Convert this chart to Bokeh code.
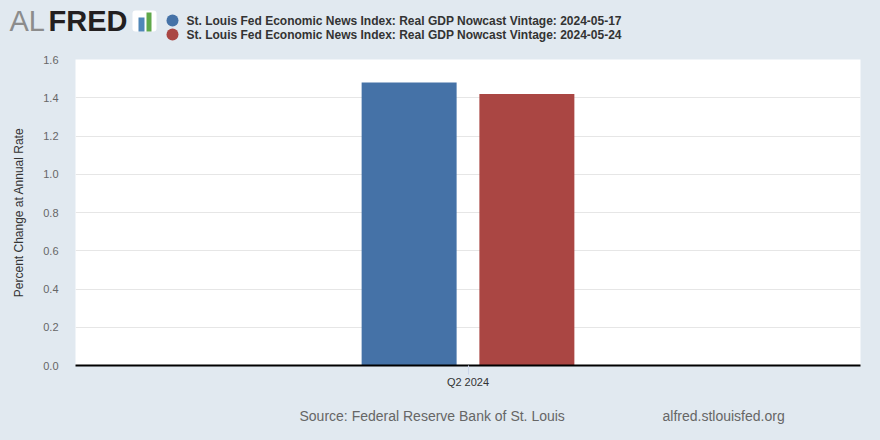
from bokeh.plotting import figure
from bokeh.layouts import column
from bokeh.models import (ColumnDataSource, FactorRange, Range1d, Label,
                          SingleIntervalTicker, NumeralTickFormatter)
from bokeh.transform import dodge
from bokeh.embed import file_html
from bokeh.resources import INLINE

# ---- data ----
categories = ["Q2 2024"]
series_names = [
    "St. Louis Fed Economic News Index: Real GDP Nowcast Vintage: 2024-05-17",
    "St. Louis Fed Economic News Index: Real GDP Nowcast Vintage: 2024-05-24",
]
vintage_2024_05_17 = [1.48]
vintage_2024_05_24 = [1.42]
series_colors = ["#4572a7", "#aa4643"]
y_title = "Percent Change at Annual Rate"
source_text = "Source: Federal Reserve Bank of St. Louis"
site_text = "alfred.stlouisfed.org"

BG = "#e1e9f0"
FONT = "Liberation Sans"
W = 880
HEADER_H, MAIN_H, FOOTER_H = 44, 351, 45


def panel(h):
    f = figure(width=W, height=h, x_range=Range1d(0, W), y_range=Range1d(h, 0),
               x_axis_location=None, y_axis_location=None, output_backend="svg",
               toolbar_location=None, min_border=0, frame_align=False)
    f.background_fill_color = BG
    f.border_fill_color = BG
    f.outline_line_color = None
    f.grid.visible = False
    return f


# ---------------- header (logo + legend) ----------------
hdr = panel(HEADER_H)
hdr.add_layout(Label(x=9, y=20, text="AL", text_font=FONT, text_font_size="29px",
                     text_color="#8c8c8c", text_baseline="middle"))
hdr.add_layout(Label(x=48, y=20, text="FRED", text_font=FONT, text_font_size="29px",
                     text_font_style="bold", text_color="#231f20",
                     text_baseline="middle"))
hdr.quad(left=[132], right=[156], top=[10], bottom=[31], fill_color="white",
         line_color=None, border_radius=3)
hdr.quad(left=[138, 146], right=[144, 151], top=[17, 12], bottom=[31, 31],
         fill_color=["#4f86b8", "#5fa84a"], line_color=None)

legend_y = [20, 34]
hdr.scatter(x=[172, 172], y=legend_y, size=12, marker="circle",
            fill_color=series_colors, line_color=None)
for name, yc in zip(series_names, legend_y):
    hdr.add_layout(Label(x=186, y=yc, text=name, text_font=FONT, text_font_size="12px",
                         text_font_style="bold", text_color="#333333",
                         text_baseline="middle"))

# ---------------- main chart ----------------
src = ColumnDataSource(dict(cat=categories, a=vintage_2024_05_17, b=vintage_2024_05_24))

p = figure(width=W, height=MAIN_H, x_range=FactorRange(*categories, range_padding=0),
           y_range=Range1d(0, 1.6), output_backend="svg", toolbar_location=None,
           min_border_left=75, min_border_right=20, min_border_top=15,
           min_border_bottom=30, frame_align=False)
p.background_fill_color = "white"
p.border_fill_color = BG
p.outline_line_color = None

p.vbar(x=dodge("cat", -0.075, range=p.x_range), top="a", width=0.121, source=src,
       fill_color=series_colors[0], line_color=None)
p.vbar(x=dodge("cat", 0.075, range=p.x_range), top="b", width=0.121, source=src,
       fill_color=series_colors[1], line_color=None)

p.yaxis.ticker = SingleIntervalTicker(interval=0.2, num_minor_ticks=0)
p.yaxis.formatter = NumeralTickFormatter(format="0.0")
p.yaxis.axis_line_color = None
p.yaxis.major_tick_line_color = None
p.yaxis.minor_tick_line_color = None
p.yaxis.major_tick_out = 0
p.yaxis.major_tick_in = 0
p.yaxis.major_label_standoff = 17
p.yaxis.major_label_text_baseline = "bottom"
p.yaxis.major_label_text_font = FONT
p.yaxis.major_label_text_font_size = "11px"
p.yaxis.major_label_text_color = "#666666"
p.yaxis.axis_label = y_title
p.yaxis.axis_label_text_font = FONT
p.yaxis.axis_label_text_font_size = "12px"
p.yaxis.axis_label_text_font_style = "normal"
p.yaxis.axis_label_text_color = "#333333"
p.yaxis.axis_label_standoff = 14

p.ygrid.grid_line_color = "#e6e6e6"
p.xgrid.grid_line_color = None

p.xaxis.axis_line_color = "black"
p.xaxis.axis_line_width = 2
p.xaxis.major_tick_line_color = "#ccd6eb"
p.xaxis.major_tick_out = 9
p.xaxis.major_tick_in = 0
p.xaxis.major_label_standoff = 1
p.xaxis.major_label_text_font = FONT
p.xaxis.major_label_text_font_size = "11px"
p.xaxis.major_label_text_color = "#333333"

# ---------------- footer ----------------
ftr = panel(FOOTER_H)
ftr.add_layout(Label(x=299, y=20, text=source_text, text_font=FONT, text_font_size="14px",
                     text_color="#666666", text_baseline="middle"))
ftr.add_layout(Label(x=662, y=20, text=site_text, text_font=FONT, text_font_size="14px",
                     text_color="#666666", text_baseline="middle"))

layout = column(hdr, p, ftr, spacing=0, styles={"background-color": BG})
open("out.html", "w").write(file_html(layout, INLINE))
